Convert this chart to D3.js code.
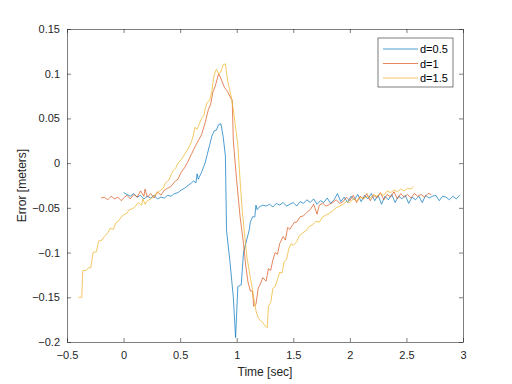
<!DOCTYPE html>
<html>
<head>
<meta charset="utf-8">
<script src="https://cdn.jsdelivr.net/npm/d3@7"></script>
<style>
  body { margin: 0; background: #fff; }
  svg { font-family: "Liberation Sans", Arial, sans-serif; }
  .tick text { fill: #262626; font-size: 11px; }
  .domain, .tick line { stroke: #262626; stroke-width: 0.6; }
</style>
</head>
<body>
<svg id="body" width="512" height="384"></svg>
<script>
// d=0.5 series
let tBlue = [0.00,0.03,0.06,0.09,0.12,0.15,0.18,0.21,0.24,0.27,0.30,0.33,0.36,0.39,0.42,0.45,0.48,0.51,0.54,0.57,
  0.60,0.62,0.64,0.65,0.66,0.69,0.72,0.74,0.76,0.78,0.80,0.82,0.84,0.86,0.88,0.90,0.91,0.94,0.97,0.99,
  1.01,1.04,1.06,1.09,1.11,1.12,1.14,1.16,1.17,1.18,1.20,1.23,1.26,1.29,1.32,1.35,1.38,1.41,1.44,1.47,
  1.50,1.53,1.56,1.59,1.62,1.65,1.68,1.71,1.74,1.77,1.80,1.83,1.86,1.89,1.92,1.95,1.98,2.01,2.04,2.07,
  2.10,2.13,2.16,2.19,2.22,2.25,2.28,2.31,2.34,2.37,2.40,2.43,2.46,2.49,2.52,2.55,2.58,2.61,2.64,2.67,
  2.70,2.73,2.76,2.79,2.82,2.85,2.88,2.91,2.94,2.97]
let eBlue = [-0.033,-0.035,-0.037,-0.034,-0.038,-0.036,-0.040,-0.037,-0.039,-0.036,-0.040,-0.038,-0.039,-0.036,-0.037,-0.034,-0.033,-0.030,-0.028,-0.025,
  -0.022,-0.020,-0.022,-0.012,-0.018,-0.010,0.000,0.010,0.020,0.030,0.036,0.037,0.043,0.044,0.030,0.008,-0.075,-0.110,-0.150,-0.195,
  -0.138,-0.136,-0.100,-0.085,-0.075,-0.066,-0.060,-0.060,-0.047,-0.052,-0.049,-0.047,-0.048,-0.046,-0.049,-0.045,-0.047,-0.044,-0.048,-0.046,
  -0.044,-0.048,-0.043,-0.045,-0.041,-0.044,-0.040,-0.046,-0.042,-0.044,-0.039,-0.045,-0.041,-0.034,-0.043,-0.038,-0.044,-0.037,-0.041,-0.035,
  -0.043,-0.036,-0.040,-0.034,-0.042,-0.036,-0.046,-0.037,-0.041,-0.035,-0.044,-0.037,-0.040,-0.036,-0.045,-0.038,-0.041,-0.037,-0.044,-0.036,
  -0.039,-0.037,-0.036,-0.042,-0.037,-0.038,-0.041,-0.037,-0.040,-0.036]

// d=1 series
let tRed = [-0.20,-0.17,-0.14,-0.11,-0.08,-0.05,-0.02,0.00,0.03,0.06,0.09,0.12,0.15,0.18,0.19,0.21,0.24,0.27,0.30,0.33,
  0.36,0.39,0.42,0.45,0.48,0.51,0.54,0.57,0.60,0.63,0.66,0.69,0.72,0.75,0.77,0.79,0.81,0.84,0.86,0.89,
  0.92,0.95,0.96,0.97,1.00,1.03,1.06,1.08,1.10,1.12,1.14,1.15,1.17,1.19,1.21,1.23,1.26,1.28,1.30,1.32,
  1.34,1.36,1.38,1.41,1.43,1.45,1.47,1.49,1.51,1.53,1.56,1.59,1.62,1.65,1.68,1.71,1.73,1.76,1.79,1.82,
  1.85,1.88,1.91,1.94,1.97,2.00,2.03,2.06,2.09,2.12,2.15,2.18,2.21,2.24,2.27,2.30,2.33,2.36,2.39,2.42,
  2.45,2.48,2.51,2.54,2.57,2.60,2.63,2.66,2.69,2.72]
let eRed = [-0.039,-0.038,-0.041,-0.037,-0.040,-0.038,-0.042,-0.039,-0.036,-0.040,-0.035,-0.038,-0.031,-0.037,-0.029,-0.038,-0.034,-0.039,-0.032,-0.036,
  -0.030,-0.028,-0.026,-0.021,-0.018,-0.010,-0.005,0.002,0.010,0.018,0.025,0.032,0.045,0.060,0.066,0.080,0.086,0.100,0.095,0.085,
  0.080,0.072,0.071,0.025,-0.020,-0.060,-0.090,-0.115,-0.133,-0.143,-0.143,-0.160,-0.158,-0.140,-0.135,-0.128,-0.132,-0.118,-0.120,-0.108,
  -0.100,-0.102,-0.090,-0.082,-0.086,-0.072,-0.074,-0.070,-0.066,-0.066,-0.060,-0.059,-0.055,-0.052,-0.046,-0.057,-0.047,-0.045,-0.048,-0.046,
  -0.044,-0.041,-0.045,-0.043,-0.038,-0.042,-0.036,-0.044,-0.037,-0.040,-0.034,-0.042,-0.036,-0.039,-0.033,-0.041,-0.035,-0.038,-0.032,-0.040,
  -0.034,-0.038,-0.035,-0.039,-0.034,-0.037,-0.035,-0.038,-0.034,-0.035]

// d=1.5 series
let tYellow = [-0.40,-0.37,-0.36,-0.33,-0.31,-0.29,-0.27,-0.24,-0.22,-0.19,-0.17,-0.14,-0.12,-0.09,-0.07,-0.04,-0.02,0.00,0.03,0.05,
  0.08,0.10,0.13,0.16,0.17,0.19,0.21,0.24,0.27,0.30,0.32,0.35,0.37,0.40,0.42,0.44,0.46,0.48,0.51,0.54,
  0.57,0.60,0.62,0.63,0.65,0.67,0.69,0.71,0.72,0.74,0.76,0.78,0.79,0.80,0.82,0.84,0.86,0.88,0.90,0.92,
  0.95,0.97,0.99,1.01,1.03,1.05,1.07,1.09,1.11,1.13,1.15,1.17,1.19,1.21,1.23,1.25,1.27,1.28,1.30,1.32,
  1.34,1.36,1.38,1.40,1.42,1.44,1.46,1.48,1.50,1.53,1.55,1.58,1.61,1.64,1.67,1.70,1.73,1.76,1.79,1.82,
  1.85,1.88,1.91,1.94,1.97,2.00,2.03,2.06,2.09,2.12,2.15,2.18,2.21,2.24,2.27,2.30,2.33,2.36,2.39,2.42,
  2.45,2.48,2.51,2.54,2.56]
let eYellow = [-0.150,-0.150,-0.120,-0.120,-0.117,-0.117,-0.100,-0.099,-0.087,-0.086,-0.082,-0.078,-0.073,-0.074,-0.067,-0.064,-0.060,-0.058,-0.056,-0.052,
  -0.051,-0.049,-0.044,-0.047,-0.040,-0.046,-0.042,-0.040,-0.036,-0.033,-0.031,-0.028,-0.022,-0.019,-0.013,-0.008,-0.006,0.000,0.004,0.010,
  0.016,0.024,0.033,0.040,0.038,0.044,0.050,0.053,0.060,0.068,0.070,0.080,0.090,0.098,0.105,0.100,0.102,0.110,0.111,0.092,
  0.075,0.060,0.040,0.020,-0.020,-0.055,-0.080,-0.105,-0.120,-0.135,-0.150,-0.165,-0.173,-0.176,-0.178,-0.182,-0.184,-0.160,-0.156,-0.140,
  -0.138,-0.130,-0.122,-0.123,-0.110,-0.108,-0.096,-0.090,-0.092,-0.088,-0.082,-0.078,-0.076,-0.071,-0.069,-0.065,-0.066,-0.060,-0.058,-0.056,
  -0.053,-0.050,-0.048,-0.046,-0.043,-0.044,-0.040,-0.042,-0.038,-0.040,-0.037,-0.039,-0.035,-0.037,-0.034,-0.036,-0.031,-0.033,-0.030,-0.032,
  -0.029,-0.031,-0.028,-0.029,-0.026]

let xTicks = [-0.5, 0, 0.5, 1, 1.5, 2, 2.5, 3]
let yTicks = [-0.2, -0.15, -0.1, -0.05, 0, 0.05, 0.1, 0.15]
let seriesNames = ["d=0.5", "d=1", "d=1.5"]
let seriesColors = ["#0072BD", "#D95319", "#EDB120"]

let body = d3.select("#body")

//plot box
let margin = {top: 29, right: 49, bottom: 42, left: 67}
let bodyWidth = 512 - margin.left - margin.right
let bodyHeight = 384 - margin.top - margin.bottom

let xscale = d3.scaleLinear().domain([-0.5, 3]).range([0, bodyWidth])
let yscale = d3.scaleLinear().domain([-0.2, 0.15]).range([bodyHeight, 0])

let g = body.append("g")
	.attr("transform", "translate(" + margin.left + "," + margin.top + ")")

//build series from the arrays
let series = [
	tBlue.map((t, i) => ({t: t, e: eBlue[i]})),
	tRed.map((t, i) => ({t: t, e: eRed[i]})),
	tYellow.map((t, i) => ({t: t, e: eYellow[i]}))
]

let valueLine = d3.line()
	.x(d => xscale(d.t))
	.y(d => yscale(d.e))

series.forEach((s, i) => {
	g.append("path")
		.datum(s)
		.attr("d", valueLine)
		.attr("fill", "none")
		.attr("stroke", seriesColors[i])
		.attr("stroke-width", 0.7)
})

//axes, ticks pointing in
g.append("g")
	.attr("transform", "translate(0," + bodyHeight + ")")
	.call(d3.axisBottom(xscale).tickValues(xTicks).tickSize(-4).tickSizeOuter(0).tickPadding(9).tickFormat(d3.format("")))

g.append("g")
	.call(d3.axisLeft(yscale).tickValues(yTicks).tickSize(-4).tickSizeOuter(0).tickPadding(7).tickFormat(d3.format("")))

//top & right axes
g.append("g")
	.call(d3.axisTop(xscale).tickValues(xTicks).tickSize(-4).tickSizeOuter(0).tickFormat(""))

g.append("g")
	.attr("transform", "translate(" + bodyWidth + ",0)")
	.call(d3.axisRight(yscale).tickValues(yTicks).tickSize(-4).tickSizeOuter(0).tickFormat(""))

//axis labels
body.append("text")
	.attr("x", margin.left + bodyWidth / 2)
	.attr("y", 376)
	.attr("text-anchor", "middle")
	.style("font-size", "12px")
	.style("fill", "#262626")
	.text("Time [sec]")

body.append("text")
	.attr("transform", "translate(26," + (margin.top + bodyHeight / 2) + ") rotate(-90)")
	.attr("text-anchor", "middle")
	.style("font-size", "12px")
	.style("fill", "#262626")
	.text("Error [meters]")

//legend
let legend = body.append("g")
	.attr("transform", "translate(378,38)")

legend.append("rect")
	.attr("width", 75)
	.attr("height", 49)
	.attr("fill", "#fff")
	.attr("stroke", "#262626")
	.attr("stroke-width", 0.6)

seriesNames.forEach((name, i) => {
	legend.append("line")
		.attr("x1", 5).attr("x2", 40)
		.attr("y1", 11 + i * 14.5).attr("y2", 11 + i * 14.5)
		.attr("stroke", seriesColors[i])
		.attr("stroke-width", 0.7)
	legend.append("text")
		.attr("x", 42)
		.attr("y", 15 + i * 14.5)
		.style("font-size", "11px")
		.style("fill", "#000")
		.text(name)
})
</script>
</body>
</html>
